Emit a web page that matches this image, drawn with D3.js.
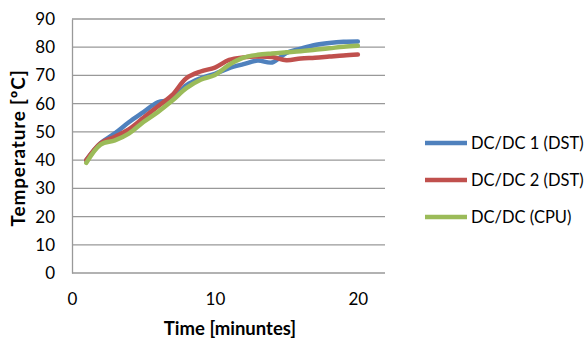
<!DOCTYPE html>
<meta charset="utf-8">
<script src="https://cdn.jsdelivr.net/npm/d3@7"></script>
<style>
  body { margin: 0; background: #fff; }
  text { font-family: Lato, "Open Sans", sans-serif; fill: #000; }
  .title { font-weight: 700; }
  .legend text { font-size: 16.5px; }
</style>
<body>
<script>

// minutes
var times = [1, 2, 3, 4, 5, 6, 7, 8, 9, 10, 11, 12, 13, 14, 15, 16, 17, 18, 19, 20];

var dcdc1 = [40, 46, 49.5, 53.5, 57, 60.5, 61.5, 66.5, 69, 70.6, 72.6, 74, 75.3, 74.6, 78, 79.5, 80.8, 81.5, 81.9, 82];
var dcdc2 = [40, 46, 48.3, 51, 55, 59, 63, 69, 71.4, 72.8, 75.5, 76.4, 76.7, 76.5, 75.4, 76, 76.3, 76.7, 77.1, 77.4];
var dcdcCpu = [39, 45.5, 47, 49.5, 53.5, 57, 61, 65.5, 68.5, 70.2, 73.8, 76.3, 77.3, 77.8, 78.2, 78.6, 79.1, 79.6, 80.2, 80.5];

var seriesNames = ["DC/DC 1 (DST)", "DC/DC 2 (DST)", "DC/DC (CPU)"];
var seriesColors = ["#4F81BD", "#C0504D", "#9BBB59"];

var xTicks = [0, 10, 20];
var yTicks = [0, 10, 20, 30, 40, 50, 60, 70, 80, 90];

var width = 585,
    height = 339;

var plotLeft = 72, plotRight = 385, plotTop = 19, plotBottom = 273;

var x = d3.scaleLinear().domain([0, 21.9]).range([plotLeft, plotRight]);
var y = d3.scaleLinear().domain([0, 90]).range([plotBottom, plotTop]);

var svg = d3.select("body").append("svg")
    .attr("width", width)
    .attr("height", height);

// grid lines
svg.append("g")
    .selectAll("line")
    .data(yTicks)
    .enter()
    .append("line")
    .attr("x1", plotLeft)
    .attr("x2", plotRight)
    .attr("y1", function(d) { return y(d); })
    .attr("y2", function(d) { return y(d); })
    .style("stroke", "#999")
    .style("stroke-width", 1.3);

// y axis
var yAxis = svg.append("g")
    .attr("transform", "translate(" + plotLeft + ",0)")
    .call(d3.axisLeft(y).tickValues(yTicks).tickSize(0).tickPadding(17));
yAxis.select(".domain").style("stroke", "#999").style("stroke-width", 1.3);

// x axis
var xAxis = svg.append("g")
    .attr("transform", "translate(0," + plotBottom + ")")
    .call(d3.axisBottom(x).tickValues(xTicks).tickSize(0).tickPadding(20));
xAxis.select(".domain").remove();

svg.selectAll(".tick text")
    .style("font-family", "Lato, sans-serif")
    .style("font-size", "17px")
    .style("fill", "#000");

// axis titles
svg.append("text")
    .attr("class", "title")
    .attr("transform", "translate(25,148) rotate(-90)")
    .attr("text-anchor", "middle")
    .style("font-size", "19px")
    .style("letter-spacing", "0.8px")
    .text("Temperature [ºC]");

svg.append("text")
    .attr("class", "title")
    .attr("x", 230)
    .attr("y", 335)
    .attr("text-anchor", "middle")
    .style("font-size", "18.5px")
    .text("Time [minuntes]");

// the lines
var allSeries = [dcdc1, dcdc2, dcdcCpu];

var line = d3.line()
    .x(function(d, i) { return x(times[i]); })
    .y(function(d) { return y(d); })
    .curve(d3.curveCatmullRom.alpha(0.5));

svg.append("g")
    .selectAll("path")
    .data(allSeries)
    .enter()
    .append("path")
    .attr("d", line)
    .style("fill", "none")
    .style("stroke", function(d, i) { return seriesColors[i]; })
    .style("stroke-width", 4.5)
    .style("stroke-linejoin", "round")
    .style("stroke-linecap", "round");

// legend
var legend = svg.append("g")
    .attr("class", "legend")
    .selectAll("g")
    .data(seriesNames)
    .enter()
    .append("g")
    .attr("transform", function(d, i) { return "translate(425," + (143 + i * 37) + ")"; });

legend.append("line")
    .attr("x1", 0)
    .attr("x2", 42)
    .style("stroke", function(d, i) { return seriesColors[i]; })
    .style("stroke-width", 4.5);

legend.append("text")
    .attr("x", 46)
    .attr("y", 6)
    .text(function(d) { return d; });

</script>
</body>
